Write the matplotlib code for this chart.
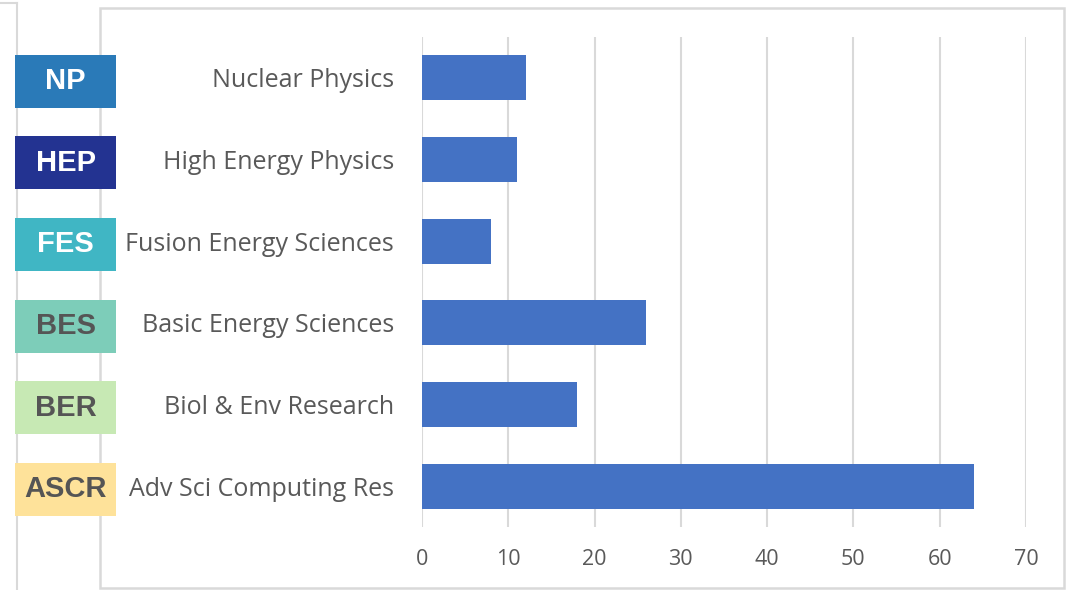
import matplotlib.pyplot as plt
from matplotlib.patches import Rectangle
import matplotlib.transforms as mtransforms

# offices, bottom to top
categories = ['Adv Sci Computing Res', 'Biol & Env Research', 'Basic Energy Sciences',
              'Fusion Energy Sciences', 'High Energy Physics', 'Nuclear Physics']
values = [64, 18, 26, 8, 11, 12]
codes = ['ASCR', 'BER', 'BES', 'FES', 'HEP', 'NP']
code_colors = ['#fee29a', '#c7e9b4', '#7dcdb9', '#40b6c4', '#233391', '#2a7ab8']
code_text = ['#555555', '#555555', '#555555', 'white', 'white', 'white']
xticks = [0, 10, 20, 30, 40, 50, 60, 70]

W, H = 1067, 590
fig = plt.figure(figsize=(W / 100, H / 100), dpi=100)
fig.patch.set_facecolor('white')

# frames
fig.add_artist(Rectangle((100 / W, 2 / H), 964 / W, 580 / H, transform=fig.transFigure,
                         fill=False, edgecolor='#d9d9d9', lw=1.8))
fig.add_artist(plt.Line2D([17 / W, 17 / W], [0, 587 / H], transform=fig.transFigure,
                          color='#d9d9d9', lw=1.5))
fig.add_artist(plt.Line2D([0, 17 / W], [587 / H, 587 / H], transform=fig.transFigure,
                          color='#d9d9d9', lw=1.5))

ax = fig.add_axes([422 / W, 63 / H, 604 / W, 490 / H])
ax.barh(range(len(categories)), values, height=0.55, color='#4472c4', zorder=3)
ax.set_xlim(0, 70)
ax.set_ylim(-0.5, len(categories) - 0.5)
ax.set_xticks(xticks)
ax.set_xticklabels([str(t) for t in xticks], fontsize=15.5, color='#595959', family='Open Sans')
ax.set_yticks(range(len(categories)))
ax.set_yticklabels(categories, fontsize=18, color='#595959', family='Open Sans')
ax.tick_params(axis='y', length=0, pad=20)
ax.tick_params(axis='x', length=0, pad=16)
ax.grid(axis='x', color='#d9d9d9', lw=1.5, zorder=0)
for s in ax.spines.values():
    s.set_visible(False)

# colored office code boxes
trans = mtransforms.blended_transform_factory(fig.transFigure, ax.transData)
for i, (c, col, tc) in enumerate(zip(codes, code_colors, code_text)):
    y = i - 0.04
    fig.add_artist(Rectangle((15 / W, y - 0.325), 101 / W, 0.65, transform=trans,
                             facecolor=col, edgecolor='none', zorder=3))
    fig.text(65.5 / W, y, c, transform=trans, ha='center', va='center', zorder=4,
             fontsize=21, fontweight='bold', color=tc, family='Liberation Sans')

fig.savefig('out.png', dpi=100)
